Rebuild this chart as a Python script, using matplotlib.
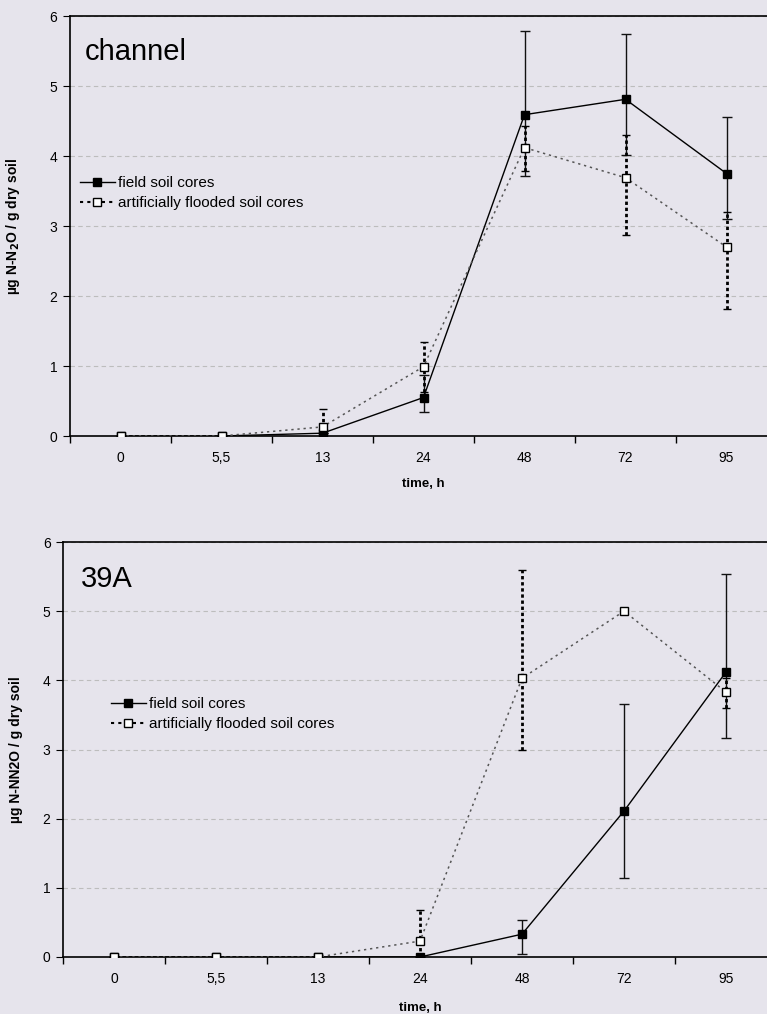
import matplotlib
matplotlib.use("Agg")
import matplotlib.pyplot as plt
from matplotlib.lines import Line2D
import numpy as np

plt.rcParams['font.family'] = ['Liberation Sans', 'DejaVu Sans']

categories = ['0', '5,5', '13', '24', '48', '72', '95']

# Panel "channel"
top_field = [0, 0, 0.04, 0.55, 4.59, 4.81, 3.75]
top_field_lo = [0, 0, 0, 0.21, 0.88, 0.80, 0.65]
top_field_hi = [0, 0, 0, 0.32, 1.20, 0.94, 0.81]
top_flood = [0, 0, 0.13, 0.99, 4.12, 3.69, 2.70]
top_flood_lo = [0, 0, 0.10, 0.36, 0.34, 0.82, 0.89]
top_flood_hi = [0, 0, 0.25, 0.36, 0.31, 0.61, 0.50]

# Panel "39A"
bot_field = [0, 0, 0, 0, 0.33, 2.11, 4.12]
bot_field_lo = [0, 0, 0, 0, 0.28, 0.97, 0.95]
bot_field_hi = [0, 0, 0, 0, 0.21, 1.55, 1.42]
bot_flood = [0, 0, 0, 0.23, 4.03, 5.00, 3.83]
bot_flood_lo = [0, 0, 0, 0.23, 1.03, 0.02, 0.23]
bot_flood_hi = [0, 0, 0, 0.45, 1.57, 0.02, 0.20]

legend_labels = ['field soil cores', 'artificially flooded soil cores']

BG = '#E6E4EC'
fig = plt.figure(figsize=(7.67, 10.14), dpi=100, facecolor=BG)

ax1 = fig.add_axes([70/767, 1-436/1014, 707/767, 420/1014])
ax2 = fig.add_axes([63/767, 1-957/1014, 714/767, 415/1014])


def draw(ax, field, flo, fhi, flood, dlo, dhi, title, ylabel, title_xy, ylab_x, xlab_y, legend_xy):
    ax.set_facecolor(BG)
    x = np.arange(len(categories))
    # field series
    ax.errorbar(x, field, yerr=[flo, fhi], color='black', lw=1.0,
                marker='s', ms=6, mfc='black', mec='black',
                ecolor='#111111', elinewidth=1.0, capsize=3.5, capthick=1.0, zorder=3)
    # flooded series
    d = ax.errorbar(x, flood, yerr=[dlo, dhi], color='#555555', lw=1.1, ls=(0, (1.5, 2.5)),
                    marker='s', ms=6, mfc='white', mec='black', mew=1.0,
                    ecolor='black', elinewidth=2.0, capsize=3.0, capthick=2.0, zorder=4)
    d[2][0].set_linestyle((0, (1.2, 1.0)))
    for c in d[1]:
        c.set_linestyle('None')
    ax.set_xlim(-0.5, 6.5)
    ax.set_ylim(0, 6)
    ax.set_xticks(x)
    ax.set_xticklabels(categories, fontsize=10)
    ax.set_xticks(np.arange(-0.5, 7.0, 1.0), minor=True)
    ax.tick_params(axis='x', which='major', length=0, pad=11)
    ax.tick_params(axis='x', which='minor', length=5, direction='out', width=1)
    ax.set_yticks(range(7))
    ax.tick_params(axis='y', length=5, direction='out', labelsize=10, pad=4)
    ax.yaxis.grid(True, linestyle=(0, (4, 3)), color='#BDBDBD', lw=0.8)
    ax.set_axisbelow(True)
    for s in ['top', 'left', 'bottom']:
        ax.spines[s].set_color('black')
        ax.spines[s].set_linewidth(1.2)
    ax.spines['right'].set_visible(False)
    ax.set_ylabel(ylabel, fontsize=10, fontweight='bold')
    ax.yaxis.set_label_coords(ylab_x, 0.5)
    ax.set_xlabel('time, h', fontsize=9.5, fontweight='bold')
    ax.xaxis.set_label_coords(0.5, xlab_y)
    ax.text(title_xy[0], title_xy[1], title, transform=ax.transAxes,
            fontsize=title_xy[2], va='baseline', ha='left')
    h1 = Line2D([], [], color='black', lw=1.0, marker='s', ms=6, mfc='black', mec='black')
    h2 = Line2D([], [], color='black', lw=1.5, ls=(0, (1.5, 2)), marker='s', ms=6,
                mfc='white', mec='black')
    ax.legend([h1, h2], legend_labels, loc='upper left', bbox_to_anchor=legend_xy,
              frameon=False, fontsize=11, handlelength=2.3, handletextpad=0.2,
              labelspacing=0.4, borderaxespad=0, borderpad=0)


draw(ax1, top_field, top_field_lo, top_field_hi, top_flood, top_flood_lo, top_flood_hi,
     'channel', 'µg N-N$_\\mathbf{2}$O / g dry soil', (0.021, 0.895, 21), -0.068, -0.1,
     (0.014, (436-176)/420))
draw(ax2, bot_field, bot_field_lo, bot_field_hi, bot_flood, bot_flood_lo, bot_flood_hi,
     '39A', 'µg N-NN2O / g dry soil', (0.025, 0.892, 21), -0.056, -0.108,
     (0.067, (957-697)/415))

fig.savefig('out.png', dpi=100, facecolor=BG)
